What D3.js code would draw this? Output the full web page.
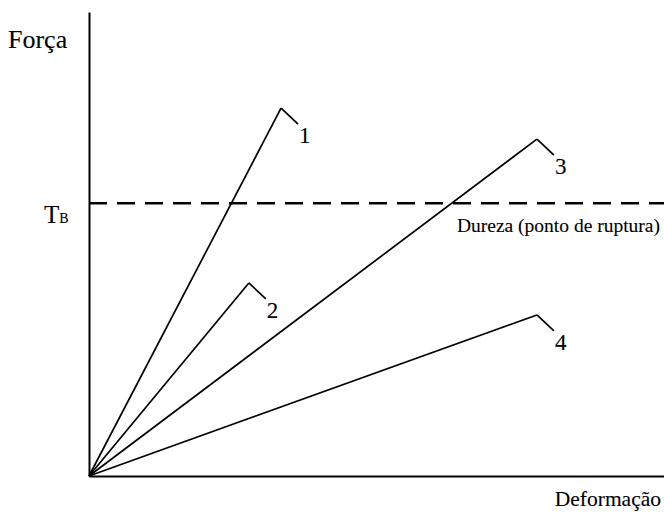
<!DOCTYPE html>
<html>
<head>
<meta charset="utf-8">
<script src="https://cdn.jsdelivr.net/npm/d3@7"></script>
<style>
  html, body { margin: 0; padding: 0; background: #fff; }
  svg { display: block; }
  text { font-family: "Liberation Serif", "Times New Roman", serif; fill: #000; stroke: #000; stroke-width: 0.1px; }
</style>
</head>
<body>
<div id="chart"></div>
<script>
// curve labels and where each one breaks (deformation %, force %)
const curveIds = ["1", "2", "3", "4"];
const peakDeformation = [33.4, 27.8, 77.9, 77.9];
const peakForce = [79.3, 41.6, 72.6, 34.7];

// breaking strength level
const breakForce = 58.8;
const breakLabel = "Dureza (ponto de ruptura)";

let width = 664;
let height = 515;
let margin = { top: 12, right: 0, bottom: 39, left: 89 };

var svg = d3
  .select("#chart")
  .append("svg")
  .attr("width", width)
  .attr("height", height);

let x = d3
  .scaleLinear()
  .domain([0, 100])
  .range([margin.left, width - margin.right]);

let y = d3
  .scaleLinear()
  .domain([0, 100])
  .range([height - margin.bottom, margin.top]);

// axes, plain lines without ticks
svg
  .append("g")
  .attr("transform", "translate(0," + y(0) + ")")
  .call(d3.axisBottom(x).tickValues([]).tickSizeOuter(0))
  .select(".domain")
  .attr("stroke", "#000")
  .attr("stroke-width", 2);

svg
  .append("g")
  .attr("transform", "translate(" + x(0) + ",0)")
  .call(d3.axisLeft(y).tickValues([]).tickSizeOuter(0))
  .select(".domain")
  .attr("stroke", "#000")
  .attr("stroke-width", 2);

// dashed break line
svg
  .append("line")
  .attr("x1", x(0))
  .attr("x2", x(100))
  .attr("y1", y(breakForce))
  .attr("y2", y(breakForce))
  .attr("stroke", "#000")
  .attr("stroke-width", 2.5)
  .attr("stroke-dasharray", "18,10");

// curves from the origin to the peak
let curves = curveIds.map(function(id, i) {
  return { id: id, pts: [[0, 0], [peakDeformation[i], peakForce[i]]] };
});

let line = d3
  .line()
  .x(d => x(d[0]))
  .y(d => y(d[1]));

svg
  .selectAll(".curve")
  .data(curves)
  .enter()
  .append("path")
  .attr("class", "curve")
  .attr("d", d => line(d.pts))
  .attr("fill", "none")
  .attr("stroke", "#000")
  .attr("stroke-width", 1.7);

// little leader from each peak to its number
let leadDx = 17;
let leadDy = 16;

svg
  .selectAll(".leader")
  .data(curves)
  .enter()
  .append("line")
  .attr("class", "leader")
  .attr("x1", d => x(d.pts[1][0]))
  .attr("y1", d => y(d.pts[1][1]))
  .attr("x2", d => x(d.pts[1][0]) + leadDx)
  .attr("y2", d => y(d.pts[1][1]) + leadDy)
  .attr("stroke", "#000")
  .attr("stroke-width", 1.7);

svg
  .selectAll(".curveLabel")
  .data(curves)
  .enter()
  .append("text")
  .attr("class", "curveLabel")
  .attr("x", d => x(d.pts[1][0]) + leadDx + 1)
  .attr("y", d => y(d.pts[1][1]) + leadDy + 19)
  .style("font-size", "23px")
  .text(d => d.id);

// axis titles
svg
  .append("text")
  .attr("x", 8)
  .attr("y", 48)
  .style("font-size", "26px")
  .text("Força");

svg
  .append("text")
  .attr("x", 661)
  .attr("y", 506)
  .attr("text-anchor", "end")
  .style("font-size", "21.5px")
  .text("Deformação");

// T with small B
let tb = svg
  .append("text")
  .attr("x", 44)
  .attr("y", y(breakForce) + 20)
  .style("font-size", "25px");
tb.append("tspan").text("T");
tb.append("tspan").style("font-size", "14px").text("B");

svg
  .append("text")
  .attr("x", 660)
  .attr("y", y(breakForce) + 29)
  .attr("text-anchor", "end")
  .style("font-size", "19.5px")
  .text(breakLabel);
</script>
</body>
</html>
